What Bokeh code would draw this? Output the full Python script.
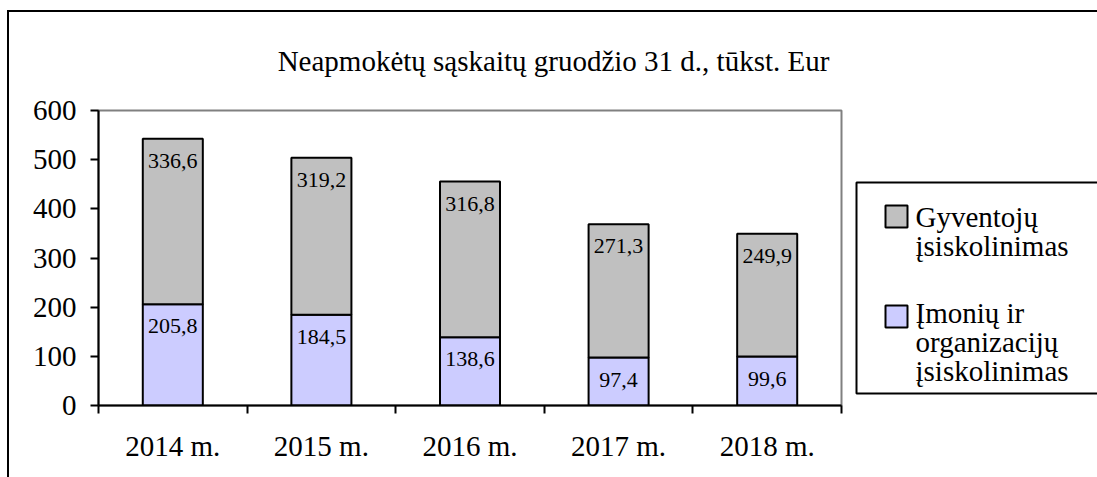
from bokeh.plotting import figure
from bokeh.models import ColumnDataSource, Range1d, FixedTicker
from bokeh.layouts import column, row
from bokeh.core.properties import value
from bokeh.embed import file_html
from bokeh.resources import INLINE

# ---- data ----
years = ["2014 m.", "2015 m.", "2016 m.", "2017 m.", "2018 m."]
imones = [205.8, 184.5, 138.6, 97.4, 99.6]          # Įmonių ir organizacijų įsiskolinimas
gyventojai = [336.6, 319.2, 316.8, 271.3, 249.9]    # Gyventojų įsiskolinimas
y_ticks = [0, 100, 200, 300, 400, 500, 600]
legend_lines = [["Gyventojų", "įsiskolinimas"],
                ["Įmonių ir", "organizacijų", "įsiskolinimas"]]
title_text = "Neapmokėtų sąskaitų gruodžio 31 d., tūkst. Eur"

FONT = "'Liberation Serif', serif"
GRAY = "#C0C0C0"
LAV = "#CCCCFF"
legend_colors = [GRAY, LAV]

W, H = 1088, 465
TITLE_H = 78
MAIN_W = 834
BODY_H = H - TITLE_H
TOP_B, BOT_B = 20, 72


def blank_fig(w, h, xr, yr, top=0, bottom=0):
    f = figure(width=w, height=h, x_range=xr, y_range=yr, title=None,
               output_backend="svg", toolbar_location=None,
               x_axis_location=None, y_axis_location=None,
               min_border_left=0, min_border_right=0,
               min_border_top=top, min_border_bottom=bottom)
    f.outline_line_color = None
    f.grid.visible = False
    f.background_fill_color = "white"
    f.border_fill_color = "white"
    return f


# ---- title strip (layout coordinates, y downward) ----
tf = blank_fig(W, TITLE_H, Range1d(0, W), Range1d(TITLE_H, 0))
tf.text(x=[544], y=[48], text=[title_text], text_font=value(FONT),
        text_font_size="29px", text_align="center", text_baseline="alphabetic",
        text_color="black")

# ---- main chart ----
n = len(years)
xpos = [i + 0.5 for i in range(n)]   # category centres on a 0..n axis
src = ColumnDataSource(dict(x=xpos, year=years, imones=imones, gyventojai=gyventojai))

p = figure(width=MAIN_W, height=BODY_H,
           x_range=Range1d(0, n), y_range=Range1d(0, 600),
           output_backend="svg", toolbar_location=None,
           min_border_left=89, min_border_right=2,
           min_border_top=TOP_B, min_border_bottom=BOT_B)
p.background_fill_color = "white"
p.border_fill_color = "white"
p.outline_line_color = "#808080"
p.outline_line_width = 2
p.grid.visible = False

ya = p.yaxis[0]
ya.ticker = FixedTicker(ticks=y_ticks, minor_ticks=[])
ya.axis_line_color = "black"
ya.axis_line_width = 2
ya.major_tick_line_color = "black"
ya.major_tick_line_width = 2
ya.major_tick_in = 0
ya.major_tick_out = 8
ya.minor_tick_line_color = None
ya.major_label_standoff = 14
ya.major_label_text_font = FONT
ya.major_label_text_font_size = "29px"
ya.major_label_text_color = "black"

xa = p.xaxis[0]
xa.ticker = FixedTicker(ticks=xpos, minor_ticks=list(range(n + 1)))
xa.major_label_overrides = {xpos[i]: years[i] for i in range(n)}
xa.axis_line_color = "black"
xa.axis_line_width = 2
xa.major_tick_line_color = None
xa.major_tick_in = 0
xa.major_tick_out = 0
xa.minor_tick_line_color = "black"
xa.minor_tick_line_width = 2
xa.minor_tick_in = 0
xa.minor_tick_out = 8
xa.major_label_standoff = 16
xa.major_label_text_font = FONT
xa.major_label_text_font_size = "29px"
xa.major_label_text_color = "black"

p.vbar_stack(["imones", "gyventojai"], x="x", width=0.404,
             color=[LAV, GRAY], line_color="black", line_width=2, source=src)

fmt = lambda v: f"{v:.1f}".replace(".", ",")
lab = ColumnDataSource(dict(
    x=xpos + xpos,
    y=imones + [a + b for a, b in zip(imones, gyventojai)],
    t=[fmt(v) for v in imones] + [fmt(v) for v in gyventojai]))
p.text(x="x", y="y", text="t", source=lab, text_font=value(FONT),
       text_font_size="22px", text_align="center", text_baseline="alphabetic",
       y_offset=22, text_color="black")

# ---- legend panel (page-pixel layout coordinates, y downward) ----
lf = blank_fig(W - MAIN_W, BODY_H, Range1d(843, 1097), Range1d(405, 110),
               top=TOP_B, bottom=BOT_B)
lf.quad(left=[856], right=[1115], top=[182], bottom=[393],
        fill_color="white", line_color="black", line_width=2)
sq_top = [205, 305]
first_base = [216, 312]
LINE = 29
for k in range(len(legend_lines)):
    lf.quad(left=[885], right=[907], top=[sq_top[k]], bottom=[sq_top[k] + 22],
            fill_color=legend_colors[k], line_color="black", line_width=2)
    lines = legend_lines[k]
    lf.text(x=[915] * len(lines), y=[first_base[k] + j * LINE for j in range(len(lines))],
            text=lines, text_font=value(FONT), text_font_size="29px",
            text_align="left", text_baseline="alphabetic", text_color="black")

layout = column(tf, row(p, lf, spacing=0), spacing=0,
                styles={"border-left": "2px solid black",
                        "border-top": "2px solid black",
                        "margin-top": "10px", "margin-left": "7px"})

open("out.html", "w").write(file_html(layout, INLINE))
